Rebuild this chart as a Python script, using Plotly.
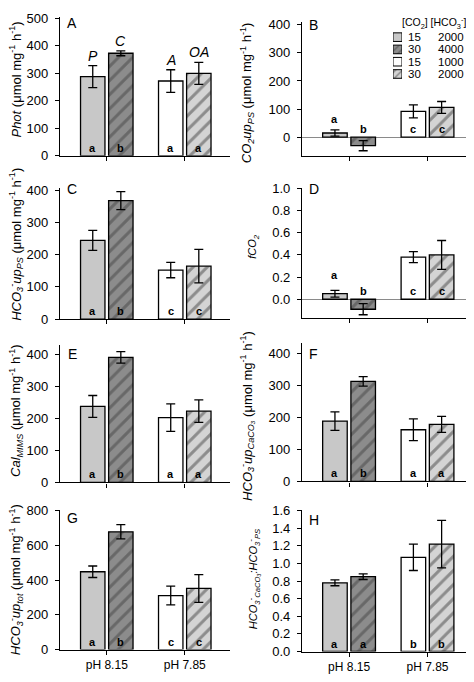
import plotly.graph_objects as go

# page has an 8px default body margin; figure is sized/placed to compensate
PAGE_OFF = 8
FW, FH = 466, 674
FONT = "Liberation Sans, Arial, sans-serif"


def px(x):
    return (x - PAGE_OFF) / FW


def py(y):
    return 1 - (y - PAGE_OFF) / FH


# ---------------- data ----------------
cats = ["pH 8.15", "pH 7.85"]
# order of values in each list: [15/2000 @8.15, 30/4000 @8.15, 15/1000 @7.85, 30/2000 @7.85]
phot = [288, 373, 272, 300]
phot_err = [40, 9, 41, 40]
co2up = [15, -30, 92, 106]
co2up_err = [11, 18, 23, 21]
hco3up = [244, 367, 152, 164]
hco3up_err = [31, 28, 24, 52]
fco2 = [0.05, -0.09, 0.38, 0.40]
fco2_err = [0.03, 0.05, 0.05, 0.13]
cal = [237, 390, 202, 222]
cal_err = [34, 18, 43, 35]
hco3cal = [188, 312, 161, 178]
hco3cal_err = [29, 15, 34, 25]
hco3tot = [448, 678, 311, 352]
hco3tot_err = [33, 41, 54, 80]
ratio = [0.78, 0.85, 1.07, 1.22]
ratio_err = [0.033, 0.032, 0.15, 0.27]

letters_A = ["a", "b", "a", "a"]
labels_A = ["P", "C", "A", "OA"]
letters_B = ["a", "b", "c", "c"]
letters_C = ["a", "b", "c", "c"]
letters_D = ["a", "b", "c", "c"]
letters_E = ["a", "b", "a", "a"]
letters_F = ["a", "b", "a", "a"]
letters_G = ["a", "b", "c", "c"]
letters_H = ["a", "a", "b", "b"]

co2_levels = ["15", "30", "15", "30"]
hco3_levels = ["2000", "4000", "1000", "2000"]

# ---------------- style ----------------
C_GRAY = "#c8c8c8"
C_DARK = "#8c8c8c"
C_WHITE = "#ffffff"
C_LIGHT = "#d4d4d4"
bar_colors = [C_GRAY, C_DARK, C_WHITE, C_LIGHT]
bar_patterns = ["", "/", "", "/"]

UNIT = "(\u03bcmol mg<sup>-1</sup> h<sup>-1</sup>)"
LX = (60, 230)
RX = (302, 473)
XR = [-0.6, 1.58]
BARGAP = 0.28
OFF = (1 - BARGAP) / 4

panels = [
    dict(k="A", v=phot, e=phot_err, L=letters_A, xd=LX, yd=(10, 152), yr=[0, 505], dt=100, fmt="",
         title="<i>Phot</i> " + UNIT, tpos=(15, 74), tsize=13, lpos=(65, 16)),
    dict(k="B", v=co2up, e=co2up_err, L=letters_B, xd=RX, yd=(15, 152), yr=[-66, 410], dt=100, fmt="",
         title="<i>CO<sub>2</sub>up<sub>PS</sub></i> " + UNIT, tpos=(247, 88), tsize=13, lpos=(307, 18)),
    dict(k="C", v=hco3up, e=hco3up_err, L=letters_C, xd=LX, yd=(185, 319), yr=[0, 406], dt=100, fmt="",
         title="<i>HCO<sub>3</sub><sup>-</sup>up<sub>PS</sub></i> " + UNIT, tpos=(16, 243), tsize=13,
         lpos=(65, 186)),
    dict(k="D", v=fco2, e=fco2_err, L=letters_D, xd=RX, yd=(185, 318), yr=[-0.17, 1.003], dt=0.2, fmt=".1f",
         title="<i>fCO<sub>2</sub></i>", tpos=(253, 244), tsize=11, lpos=(307, 186)),
    dict(k="E", v=cal, e=cal_err, L=letters_E, xd=LX, yd=(345, 486), yr=[0, 430], dt=100, fmt="",
         title="<i>Cal<sub>MIMS</sub></i> " + UNIT, tpos=(16, 413), tsize=13, lpos=(66, 355)),
    dict(k="F", v=hco3cal, e=hco3cal_err, L=letters_F, xd=RX, yd=(343, 485), yr=[0, 433], dt=100, fmt="",
         title="<i>HCO<sub>3</sub><sup>-</sup>up<sub>CaCO\u2083</sub></i> " + UNIT, tpos=(247, 418), tsize=13,
         lpos=(307, 355)),
    dict(k="G", v=hco3tot, e=hco3tot_err, L=letters_G, xd=LX, yd=(514, 657), yr=[0, 805], dt=200, fmt="",
         title="<i>HCO<sub>3</sub><sup>-</sup>up<sub>tot</sub></i> " + UNIT, tpos=(16, 586), tsize=13,
         lpos=(65, 522)),
    dict(k="H", v=ratio, e=ratio_err, L=letters_H, xd=RX, yd=(514, 659), yr=[0, 1.61], dt=0.2, fmt=".1f",
         title="<i>HCO<sub>3</sub><sup>-</sup><sub>CaCO\u2083</sub>:HCO<sub>3</sub><sup>-</sup><sub>PS</sub></i>",
         tpos=(254, 585), tsize=11, lpos=(307, 524)),
]

fig = go.Figure()
annotations = []
layout = {}

for i, p in enumerate(panels, start=1):
    xa = "x" if i == 1 else f"x{i}"
    ya = "y" if i == 1 else f"y{i}"
    xkey = "xaxis" if i == 1 else f"xaxis{i}"
    ykey = "yaxis" if i == 1 else f"yaxis{i}"
    v, e = p["v"], p["e"]

    # first bar of each pair (15 uatm CO2), second bar (30 uatm CO2, hatched)
    for j, grp in enumerate([(0, 2), (1, 3)]):
        fig.add_trace(go.Bar(
            x=cats, y=[v[grp[0]], v[grp[1]]],
            xaxis=xa, yaxis=ya, offsetgroup=str(j),
            marker=dict(
                color=[bar_colors[grp[0]], bar_colors[grp[1]]],
                line=dict(color="black", width=1.3),
                pattern=dict(shape=[bar_patterns[grp[0]], bar_patterns[grp[1]]],
                             fillmode="overlay", fgcolor="black",
                             bgcolor=[bar_colors[grp[0]], bar_colors[grp[1]]],
                             size=10, solidity=0.3),
            ),
            error_y=dict(type="data", array=[e[grp[0]], e[grp[1]]], color="black",
                         thickness=1.3, width=4.5),
            showlegend=False, hoverinfo="skip",
        ))

    x0, x1 = p["xd"]
    t, b = p["yd"]
    bottom_row = p["k"] in ("G", "H")
    layout[xkey] = dict(
        domain=[px(x0), px(x1)], anchor=ya, type="category", categoryorder="array",
        categoryarray=cats, range=XR, showline=True, linecolor="black", linewidth=1.3,
        ticks="outside", ticklen=4, tickwidth=1, tickcolor="black", showgrid=False,
        zeroline=False, showticklabels=bottom_row,
        tickfont=dict(family=FONT, size=12, color="black"),
    )
    layout[ykey] = dict(
        domain=[py(b), py(t)], anchor=xa, range=p["yr"], dtick=p["dt"], tick0=0,
        tickformat=p["fmt"], showline=True, linecolor="black", linewidth=1.3,
        ticks="outside", ticklen=4, tickwidth=1, tickcolor="black", showgrid=False,
        ticklabelstandoff=4,
        zeroline=p["k"] in ("B", "D"), zerolinecolor="#8a8a8a", zerolinewidth=1,
        tickfont=dict(family=FONT, size=13, color="black"),
    )

    # axis title
    tx, ty = p["tpos"]
    annotations.append(dict(text=p["title"], xref="paper", yref="paper", x=px(tx), y=py(ty),
                            xanchor="center", yanchor="middle", textangle=-90, showarrow=False,
                            font=dict(family=FONT, size=p["tsize"], color="black")))
    # panel letter
    lx, ly = p["lpos"]
    annotations.append(dict(text=p["k"], xref="paper", yref="paper", x=px(lx), y=py(ly),
                            xanchor="left", yanchor="middle", showarrow=False,
                            font=dict(family=FONT, size=14, color="black")))
    # significance letters
    span = p["yr"][1] - p["yr"][0]
    for n in range(4):
        xpos = (n // 2) + (-OFF if n % 2 == 0 else OFF)
        val = v[n]
        if val < 0:
            yv, ysh = 0, 0
        elif val < 0.15 * span:
            yv, ysh = val + e[n], 3 if p["k"] == "B" else 7
        else:
            yv, ysh = 0, 0
        annotations.append(dict(text="<b>" + p["L"][n] + "</b>", xref=xa, yref=ya, x=xpos, y=yv,
                                xanchor="center", yanchor="bottom", yshift=ysh, showarrow=False,
                                font=dict(family=FONT, size=11, color="black")))
    if p["k"] == "A":
        for n in range(4):
            xpos = (n // 2) + (-OFF if n % 2 == 0 else OFF)
            annotations.append(dict(text="<i>" + labels_A[n] + "</i>", xref=xa, yref=ya, x=xpos,
                                    y=v[n] + e[n], xanchor="center", yanchor="bottom", yshift=0,
                                    showarrow=False, font=dict(family=FONT, size=14, color="black")))

# ---------------- legend (panel B) ----------------
leg_keys = [f"{c} / {h}" for c, h in zip(co2_levels, hco3_levels)]
fig.add_trace(go.Bar(
    y=leg_keys, x=[1] * len(leg_keys), orientation="h", width=0.7,
    xaxis="x9", yaxis="y9",
    marker=dict(color=bar_colors, line=dict(color="black", width=1),
                pattern=dict(shape=bar_patterns, fillmode="overlay", fgcolor="black",
                             bgcolor=bar_colors, size=5, solidity=0.3)),
    showlegend=False, hoverinfo="skip",
))
layout["xaxis9"] = dict(domain=[px(393), px(402)], range=[0, 1], visible=False, anchor="y9")
layout["yaxis9"] = dict(domain=[py(75.5), py(23.5)], type="category", categoryorder="array",
                        categoryarray=leg_keys, autorange="reversed", visible=False, anchor="x9")
for key, c, h in zip(leg_keys, co2_levels, hco3_levels):
    annotations.append(dict(text=c, xref="paper", yref="y9", x=px(407), y=key, xanchor="left",
                            yanchor="middle", showarrow=False, borderpad=0,
                            font=dict(family=FONT, size=11.5, color="black")))
    annotations.append(dict(text=h, xref="paper", yref="y9", x=px(465), y=key, xanchor="right",
                            yanchor="middle", showarrow=False, borderpad=0,
                            font=dict(family=FONT, size=11.5, color="black")))
annotations.append(dict(text="[CO<sub>2</sub>] [HCO<sub>3</sub><sup>-</sup>]", xref="paper", yref="paper",
                        x=px(401), y=py(16), xanchor="left", yanchor="middle", showarrow=False,
                        borderpad=0, font=dict(family=FONT, size=10.5, color="black")))

fig.update_layout(
    width=FW, height=FH, margin=dict(l=0, r=0, t=0, b=0),
    paper_bgcolor="white", plot_bgcolor="white",
    barmode="group", bargap=BARGAP, bargroupgap=0.13,
    showlegend=False, annotations=annotations,
    font=dict(family=FONT, color="black"),
    **layout,
)

fig.write_html("out.html")
